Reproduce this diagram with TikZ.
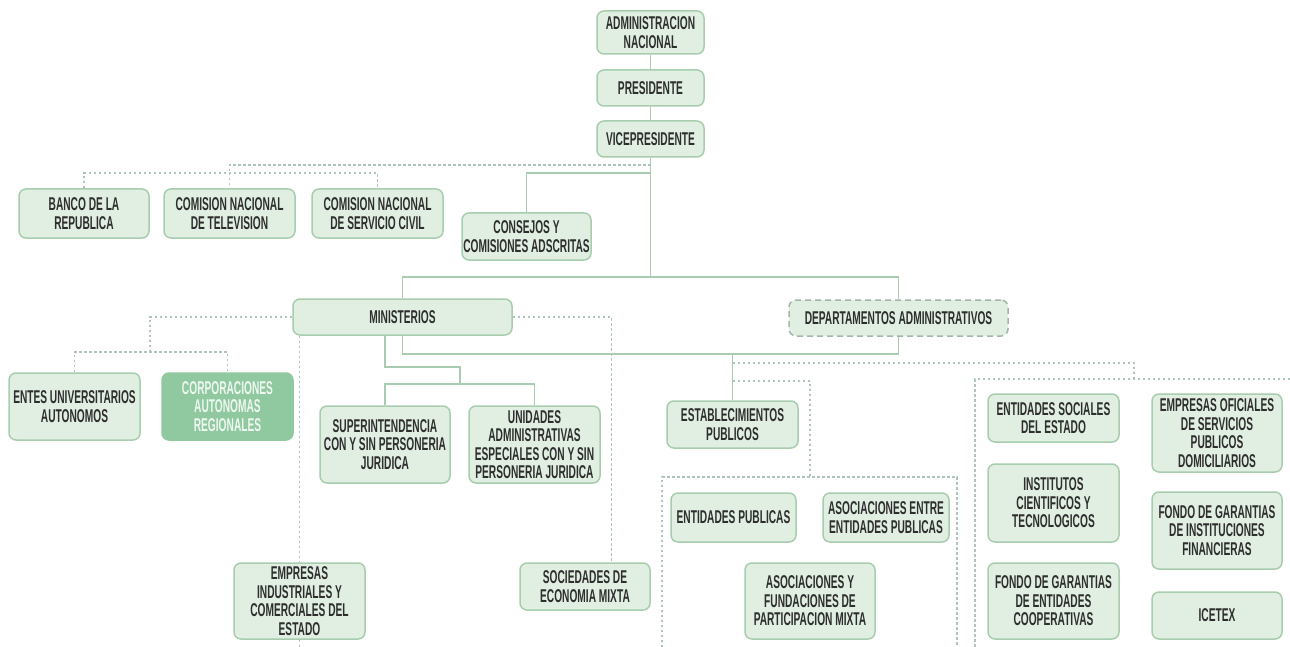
\documentclass[tikz,border=0pt]{standalone}
\usepackage{fontspec}
\setmainfont{Liberation Sans}[FakeStretch=0.55]
\usetikzlibrary{backgrounds}
\definecolor{boxfill}{HTML}{E1EFE2}
\definecolor{boxline}{HTML}{A8CCAE}
\definecolor{linecol}{HTML}{A9CCB1}
\definecolor{dotcol}{HTML}{AFC4BD}
\definecolor{corpfill}{HTML}{90C8A0}
\definecolor{corptext}{HTML}{EDF7EF}
\definecolor{txt}{HTML}{2E2E2E}
\definecolor{dashcol}{HTML}{A3B5AA}
\tikzset{
  box/.style={draw=boxline, line width=1.5pt, fill=boxfill, rounded corners=7pt,
    align=center, text=txt, font=\fontsize{18.5}{18.5}\selectfont\bfseries, inner sep=0pt},
  corpbox/.style={box, fill=corpfill, draw=corpfill, text=corptext},
  depbox/.style={box, draw=dashcol, dash pattern=on 6pt off 4pt},
  link/.style={draw=linecol, line width=1.8pt},
  dotlink/.style={draw=dotcol, line width=1.4pt, dash pattern=on 2.5pt off 2.5pt},
}
\begin{document}
\begin{tikzpicture}[x=1pt, y=-1pt]
\useasboundingbox (0,0) rectangle (1290,647);
% top chain
\node[box, minimum width=107pt, minimum height=43pt] (adm) at (650.5,32.5) {ADMINISTRACION\\NACIONAL};
\node[box, minimum width=107pt, minimum height=36pt] (pres) at (650.5,88) {PRESIDENTE};
\node[box, minimum width=107pt, minimum height=36pt] (vice) at (650.5,139) {VICEPRESIDENTE};
% second row
\node[box, minimum width=130pt, minimum height=49pt] (banco) at (84,213.5) {BANCO DE LA\\REPUBLICA};
\node[box, minimum width=131pt, minimum height=49pt] (tv) at (229.5,213.5) {COMISION NACIONAL\\DE TELEVISION};
\node[box, minimum width=131pt, minimum height=49pt] (sc) at (377.5,213.5) {COMISION NACIONAL\\DE SERVICIO CIVIL};
\node[box, minimum width=129pt, minimum height=47pt] (cons) at (526.5,236.5) {CONSEJOS Y\\COMISIONES ADSCRITAS};
% third row
\node[box, minimum width=219pt, minimum height=36pt] (min) at (402.5,317) {MINISTERIOS};
\node[depbox, minimum width=219pt, minimum height=36pt] (dep) at (898.5,318) {DEPARTAMENTOS ADMINISTRATIVOS};
% left group
\node[box, minimum width=131pt, minimum height=67pt] (entes) at (74.5,406.5) {ENTES UNIVERSITARIOS\\AUTONOMOS};
\node[corpbox, minimum width=131pt, minimum height=67pt] (corp) at (227.5,406.5) {CORPORACIONES\\AUTONOMAS\\REGIONALES};
\node[box, minimum width=130pt, minimum height=77pt] (super) at (385,444.5) {SUPERINTENDENCIA\\CON Y SIN PERSONERIA\\JURIDICA};
\node[box, minimum width=131pt, minimum height=77pt] (unid) at (534.5,444.5) {UNIDADES\\ADMINISTRATIVAS\\ESPECIALES CON Y SIN\\PERSONERIA JURIDICA};
\node[box, minimum width=131pt, minimum height=76pt] (empr) at (299.5,601) {EMPRESAS\\INDUSTRIALES Y\\COMERCIALES DEL\\ESTADO};
\node[box, minimum width=130pt, minimum height=47pt] (soc) at (585,586.5) {SOCIEDADES DE\\ECONOMIA MIXTA};
% middle group
\node[box, minimum width=131pt, minimum height=47pt] (estab) at (732.5,424.5) {ESTABLECIMIENTOS\\PUBLICOS};
\node[box, minimum width=125pt, minimum height=49pt] (entpub) at (733.5,517.5) {ENTIDADES PUBLICAS};
\node[box, minimum width=126pt, minimum height=49pt] (asocent) at (886,517.5) {ASOCIACIONES ENTRE\\ENTIDADES PUBLICAS};
\node[box, minimum width=130pt, minimum height=76pt] (asocfund) at (810,601) {ASOCIACIONES Y\\FUNDACIONES DE\\PARTICIPACION MIXTA};
% right group
\node[box, minimum width=131pt, minimum height=48pt] (entsoc) at (1053.5,418) {ENTIDADES SOCIALES\\DEL ESTADO};
\node[box, minimum width=131pt, minimum height=78pt] (inst) at (1053.5,503) {INSTITUTOS\\CIENTIFICOS Y\\TECNOLOGICOS};
\node[box, minimum width=131pt, minimum height=76pt] (fondoent) at (1053.5,601) {FONDO DE GARANTIAS\\DE ENTIDADES\\COOPERATIVAS};
\node[box, minimum width=130pt, minimum height=78pt] (emprof) at (1217,433) {EMPRESAS OFICIALES\\DE SERVICIOS\\PUBLICOS\\DOMICILIARIOS};
\node[box, minimum width=130pt, minimum height=77pt] (fondoinst) at (1217,530.5) {FONDO DE GARANTIAS\\DE INSTITUCIONES\\FINANCIERAS};
\node[box, minimum width=130pt, minimum height=47pt] (icetex) at (1217,615.5) {ICETEX};

\begin{pgfonlayer}{background}
% solid links
\draw[link] (adm.south) -- (pres.north);
\draw[link] (pres.south) -- (vice.north);
\draw[link] (vice.south) -- (vice.south |- 0,277);
\draw[link] (min.north) -- (min.north |- 0,277) -- (dep.north |- 0,277) -- (dep.north);
\draw[link] (vice.south |- 0,173) -- (cons.north |- 0,173) -- (cons.north);
\draw[link] (min.south) -- (min.south |- 0,354) -- (dep.south |- 0,354) -- (dep.south);
\draw[link] (estab.north |- 0,354) -- (estab.north);
\draw[link] (super.north |- min.south) -- (super.north |- 0,367) -- (460,367) -- (460,384);
\draw[link] (super.north) -- (super.north |- 0,384) -- (unid.north |- 0,384) -- (unid.north);
% dotted links, top
\draw[dotlink] (vice.south |- 0,165) -- (tv.north |- 0,165) -- (tv.north |- 0,173);
\draw[dotlink] (banco.north) -- (banco.north |- 0,173) -- (sc.north |- 0,173) -- (sc.north);
\draw[dotlink] (tv.north |- 0,173) -- (tv.north);
% dotted links, ministerios
\draw[dotlink] (min.west) -- (150,317) -- (150,352);
\draw[dotlink] (entes.north) -- (entes.north |- 0,352) -- (corp.north |- 0,352) -- (corp.north);
\draw[dotlink] (min.east) -- (611.5,317) -- (soc.north -| 611.5,0);
\draw[dotlink] (min.south -| empr.north) -- (empr.north);
\coordinate (emprend) at (empr.south |- 0,647);
\draw[dotlink] (empr.south) -- (emprend);
% dotted links, departamentos
\draw[dotlink] (estab.north |- 0,363) -- (1134,363) -- (1134,379);
\coordinate (rightend) at (1290,379);
\draw[dotlink] (rightend) -- (975,379) -- (975,647);
\draw[dotlink] (estab.north |- 0,381) -- (810,381) -- (810,477);
\draw[dotlink] (662,647) -- (662,477) -- (957,477) -- (957,647);
\end{pgfonlayer}
\end{tikzpicture}
\end{document}
